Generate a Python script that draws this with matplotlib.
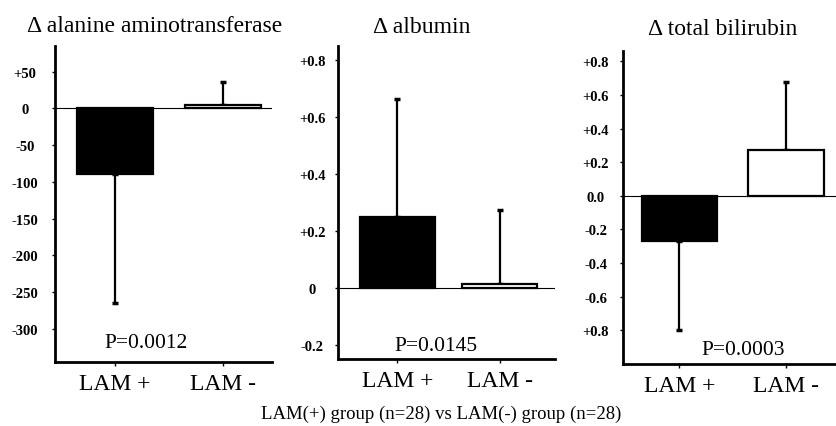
import matplotlib.pyplot as plt

groups = ['LAM +', 'LAM -']
titles = ['\u0394 alanine aminotransferase', '\u0394 albumin', '\u0394 total bilirubin']
p_values = ['P=0.0012', 'P=0.0145', 'P=0.0003']

alt_means = [-89, 4]
alt_sd = [176, 32]
alb_means = [0.25, 0.015]
alb_sd = [0.415, 0.26]
bil_means = [-0.27, 0.27]
bil_sd = [0.53, 0.405]

alt_ticks = [50, 0, -50, -100, -150, -200, -250, -300]
alt_labels = ['+50', '0', '-50', '-100', '-150', '-200', '-250', '-300']
alb_ticks = [0.8, 0.6, 0.4, 0.2, 0, -0.2]
alb_labels = ['+0.8', '+0.6', '+0.4', '+0.2', '0', '-0.2']
bil_ticks = [0.8, 0.6, 0.4, 0.2, 0.0, -0.2, -0.4, -0.6, -0.8]
bil_labels = ['+0.8', '+0.6', '+0.4', '+0.2', '0.0', '-0.2', '-0.4', '-0.6', '+0.8']

caption = 'LAM(+) group (n=28) vs LAM(-) group (n=28)'

plt.rcParams['font.family'] = ['Liberation Serif', 'DejaVu Serif']

fig = plt.figure(figsize=(8.36, 4.27), dpi=100)

# axes rectangles (figure fraction) and axis ranges per panel
rects = [[0.0658, 0.150, 0.2596, 0.740],
         [0.4043, 0.157, 0.2596, 0.733],
         [0.7452, 0.145, 0.2548, 0.733]]
xlims = [(-0.55, 1.45), (-0.58, 1.54), (-0.53, 1.47)]
ylims = [(-345, 85), (-0.25, 0.85), (-1.0, 0.86)]
widths = [0.70, 0.73, 0.71]
pads = [19, 16, 17]
title_pos = [(155, 32), (422, 33), (723, 35)]
p_pos = [(146, 348), (436, 351), (743, 355)]

means = [alt_means, alb_means, bil_means]
sds = [alt_sd, alb_sd, bil_sd]
ticks = [alt_ticks, alb_ticks, bil_ticks]
labels = [alt_labels, alb_labels, bil_labels]

W, H = 836, 427
for i in range(3):
    ax = fig.add_axes(rects[i])
    x = [0, 1]
    ax.bar(x, means[i], width=widths[i], color=['black', 'white'],
           edgecolor='black', linewidth=1.6, zorder=3)
    for xi, m, s in zip(x, means[i], sds[i]):
        err = [[s], [0]] if m < 0 else [[0], [s]]
        ax.errorbar([xi], [m], yerr=err, fmt='none', ecolor='black',
                    elinewidth=1.6, capsize=2, capthick=2.5, zorder=2)
    ax.axhline(0, color='black', lw=0.8, zorder=4)
    ax.set_xlim(*xlims[i])
    ax.set_ylim(*ylims[i])
    ax.spines['top'].set_visible(False)
    ax.spines['right'].set_visible(False)
    ax.spines['left'].set_linewidth(2)
    ax.spines['bottom'].set_linewidth(2)
    ax.set_yticks(ticks[i])
    ax.set_yticklabels(labels[i], fontsize=10.5, fontweight='bold', ha='center')
    ax.tick_params(axis='y', length=2.5, width=1, pad=pads[i])
    ax.set_xticks(x)
    ax.set_xticklabels(groups, fontsize=17)
    ax.tick_params(axis='x', length=3, width=1, pad=5)
    fig.text(title_pos[i][0] / W, 1 - title_pos[i][1] / H, titles[i],
             fontsize=17, ha='center', va='baseline')
    fig.text(p_pos[i][0] / W, 1 - p_pos[i][1] / H, p_values[i],
             fontsize=15.5, ha='center', va='baseline')

fig.text(441 / W, 1 - 419 / H, caption, fontsize=13.5, ha='center', va='baseline')

fig.savefig('out.png', dpi=100)
